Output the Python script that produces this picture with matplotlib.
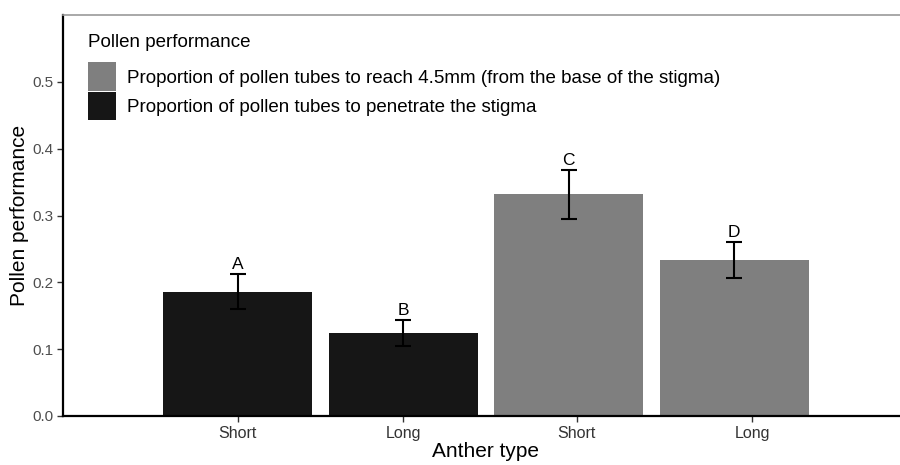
import matplotlib
matplotlib.use("Agg")
import matplotlib.pyplot as plt
from matplotlib.patches import Patch

plt.rcParams['font.family'] = ['Liberation Sans', 'DejaVu Sans']

anther = ["Short", "Long", "Short", "Long"]
measure = ["penetrate", "penetrate", "reach", "reach"]
means = [0.186, 0.124, 0.332, 0.2335]
err_low = [0.160, 0.105, 0.295, 0.206]
err_high = [0.213, 0.144, 0.368, 0.261]
letters = ["A", "B", "C", "D"]
series_labels = {
    "reach": "Proportion of pollen tubes to reach 4.5mm (from the base of the stigma)",
    "penetrate": "Proportion of pollen tubes to penetrate the stigma",
}
colors = {"reach": "#7f7f7f", "penetrate": "#161616"}

fig = plt.figure(figsize=(9, 4.65), dpi=100)
ax = fig.add_axes([0.070, 0.1054, 0.938, 0.8623])

x = list(range(len(means)))
ax.bar(x, means, width=0.9, color=[colors[m] for m in measure], zorder=2)
yerr = [[m - lo for m, lo in zip(means, err_low)], [hi - m for m, hi in zip(means, err_high)]]
ax.errorbar(x, means, yerr=yerr, fmt='none', ecolor='black', elinewidth=1.5,
            capsize=6, capthick=1.5, zorder=3)
for xi, hi, lab in zip(x, err_high, letters):
    ax.text(xi, hi + 0.003, lab, ha='center', va='bottom', fontsize=12.5, color='black')

ax.set_xlim(-1.054, 4.045)
ax.set_ylim(0, 0.6)
ax.set_yticks([0, 0.1, 0.2, 0.3, 0.4, 0.5])
ax.set_yticklabels(["0.0", "0.1", "0.2", "0.3", "0.4", "0.5"])
tick_pos = [0, 1, 2.05, 3.11]
ax.set_xticks(tick_pos)
ax.set_xticklabels(anther)
ax.tick_params(axis='both', colors='#333333', width=1, length=4)
ax.tick_params(axis='y', labelcolor='#4d4d4d', labelsize=11, pad=3)
ax.tick_params(axis='x', labelcolor='#333333', labelsize=11.5, pad=3)
for s in ['left', 'bottom']:
    ax.spines[s].set_linewidth(1.6)
    ax.spines[s].set_color('black')
ax.spines['top'].set_color('#9a9a9a')
ax.spines['top'].set_linewidth(1.2)
ax.spines['right'].set_visible(False)

ax.set_ylabel("Pollen performance", fontsize=15, labelpad=2)
ax.set_xlabel("Anther type", fontsize=15, labelpad=1)

handles = [Patch(facecolor=colors["reach"], edgecolor='none', label=series_labels["reach"]),
           Patch(facecolor=colors["penetrate"], edgecolor='none', label=series_labels["penetrate"])]
leg = ax.legend(handles=handles, title="Pollen performance", loc='upper left',
                bbox_to_anchor=(0.0296, 0.952), frameon=False, fontsize=13.5,
                title_fontsize=13.5, handlelength=1.5, handleheight=1.95,
                labelspacing=0.05, handletextpad=0.59, borderaxespad=0, borderpad=0)
leg._legend_box.align = "left"
leg._legend_box.sep = 8

fig.savefig("out.png", dpi=100)
